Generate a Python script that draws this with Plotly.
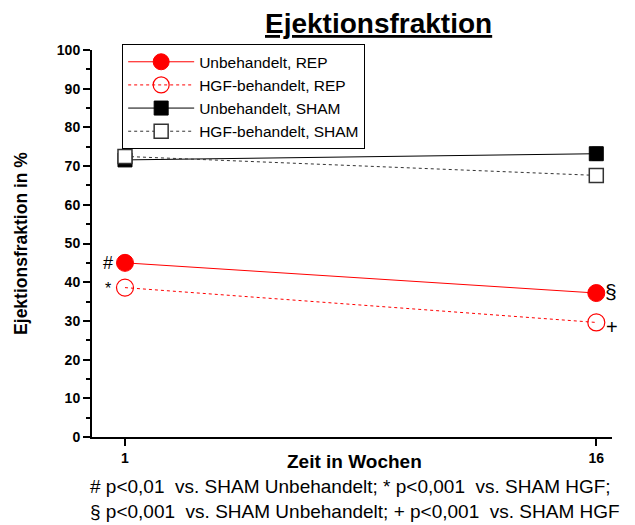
import plotly.graph_objects as go

weeks = [1, 16]
rep_untreated = [45.0, 37.2]
rep_hgf = [38.6, 29.6]
sham_untreated = [71.6, 73.2]
sham_untreated_err = [0.3, 1.6]
sham_hgf = [72.5, 67.6]
y_ticks = [0, 10, 20, 30, 40, 50, 60, 70, 80, 90, 100]

FONT = "Liberation Sans, Arial, sans-serif"

fig = go.Figure()
fig.add_trace(go.Scatter(x=weeks, y=rep_untreated, name="Unbehandelt, REP", mode="lines+markers",
                         line=dict(color="red", width=1),
                         marker=dict(symbol="circle", size=17, color="red", line=dict(color="red", width=1))))
fig.add_trace(go.Scatter(x=weeks, y=rep_hgf, name="HGF-behandelt, REP", mode="lines+markers",
                         line=dict(color="red", width=1, dash="dot"),
                         marker=dict(symbol="circle-open", size=17, color="red", line=dict(color="red", width=1.2))))
fig.add_trace(go.Scatter(x=weeks, y=sham_untreated, name="Unbehandelt, SHAM", mode="lines+markers",
                         line=dict(color="black", width=1),
                         error_y=dict(type="data", array=sham_untreated_err, color="black", width=4, thickness=1.5),
                         marker=dict(symbol="square", size=14, color="black", line=dict(color="black", width=1))))
fig.add_trace(go.Scatter(x=weeks, y=sham_hgf, name="HGF-behandelt, SHAM", mode="lines+markers",
                         line=dict(color="#333333", width=1, dash="dot"),
                         marker=dict(symbol="square", size=14, color="white", line=dict(color="#333333", width=1.5))))

annots = [
    dict(x=weeks[0], y=rep_untreated[0], text="#", xshift=-17, yshift=0, size=18),
    dict(x=weeks[0], y=rep_hgf[0], text="*", xshift=-17, yshift=-1, size=16),
    dict(x=weeks[1], y=rep_untreated[1], text="§", xshift=15, yshift=2, size=21),
    dict(x=weeks[1], y=rep_hgf[1], text="+", xshift=16, yshift=-5, size=20),
]
for a in annots:
    size = a.pop("size")
    fig.add_annotation(xref="x", yref="y", showarrow=False, xanchor="center",
                       font=dict(family=FONT, size=size, color="black"), **a)

fig.add_annotation(xref="paper", yref="paper", x=0.55, y=1.0, yshift=27, text="<b><u>Ejektionsfraktion</u></b>",
                   showarrow=False, font=dict(family=FONT, size=28, color="black"), yanchor="middle")
fig.add_annotation(xref="paper", yref="paper", x=0.504, y=0, yshift=-24, xanchor="center", yanchor="middle",
                   text="<b>Zeit in Wochen</b>",
                   showarrow=False, font=dict(family=FONT, size=19, color="black"))
fig.add_annotation(xref="paper", yref="paper", x=-0.008, y=0, yshift=-37, xanchor="left", yanchor="top", align="left",
                   text="# p<0,01  vs. SHAM Unbehandelt; * p<0,001  vs. SHAM HGF;<br>§ p<0,001  vs. SHAM Unbehandelt; + p<0,001  vs. SHAM HGF",
                   showarrow=False, font=dict(family=FONT, size=19, color="black"))

fig.update_layout(
    width=627, height=517,
    margin=dict(l=84, r=23, t=42, b=88, autoexpand=False),
    paper_bgcolor="white", plot_bgcolor="white",
    font=dict(family=FONT, color="black"),
    showlegend=True,
    legend=dict(x=0.058, y=1.015, xanchor="left", yanchor="top", bordercolor="black", borderwidth=1,
                bgcolor="white", font=dict(family=FONT, size=15.5), tracegroupgap=0, itemwidth=66),
    xaxis=dict(range=[-0.05, 16.5], tickvals=weeks, ticktext=["<b>1</b>", "<b>16</b>"],
               showgrid=False, zeroline=False, showline=True, linecolor="black", linewidth=2,
               ticks="outside", ticklen=7, tickwidth=2, tickcolor="black",
               tickfont=dict(family=FONT, size=14), automargin=False),
    yaxis=dict(range=[0, 100], tickvals=y_ticks, ticktext=[f"<b>{v}</b>" for v in y_ticks],
               showgrid=False, zeroline=False, showline=True, linecolor="black", linewidth=2,
               ticks="outside", ticklen=7, tickwidth=2, tickcolor="black",
               minor=dict(dtick=5, ticks="outside", ticklen=4, tickwidth=2, tickcolor="black", showgrid=False),
               tickfont=dict(family=FONT, size=14), automargin=False,
               title=dict(text="<b>Ejektionsfraktion in %</b>", font=dict(family=FONT, size=17.5), standoff=25)),
)

fig.write_html("out.html")
